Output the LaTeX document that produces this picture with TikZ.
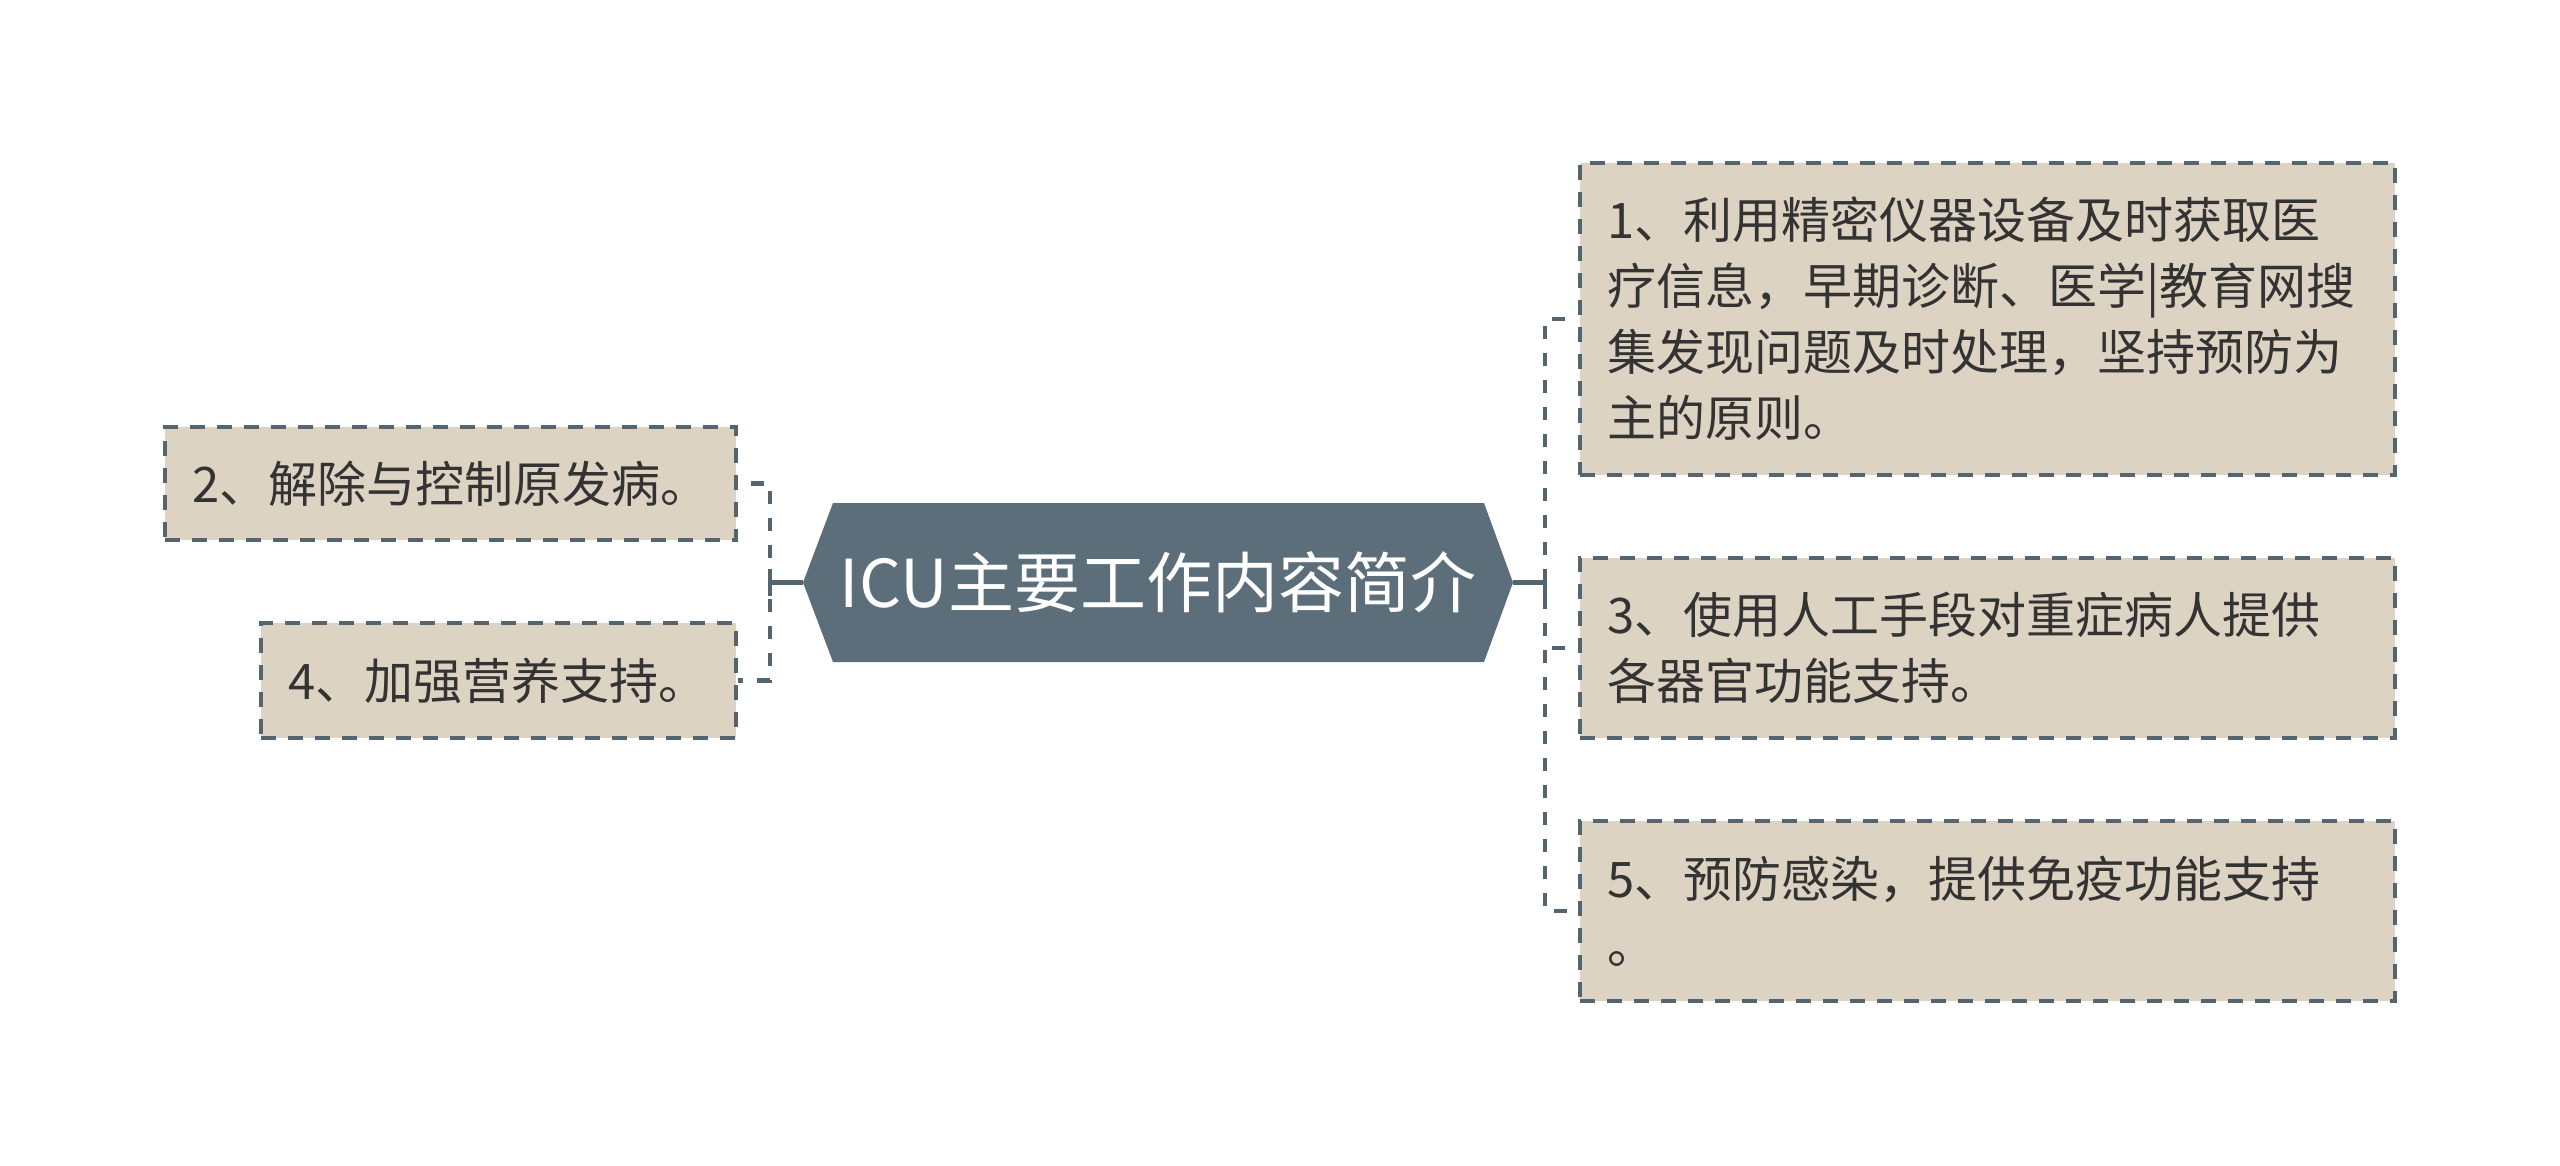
\documentclass[tikz,border=0pt]{standalone}
\usepackage{fontspec}
\setmainfont{Noto Sans CJK SC}
\definecolor{hexfill}{RGB}{91,110,122}
\definecolor{boxfill}{RGB}{221,211,195}
\definecolor{linec}{RGB}{85,101,111}
\definecolor{textc}{RGB}{51,51,51}
\begin{document}
\begin{tikzpicture}[x=1pt,y=-1pt,
  box/.style={draw=linec, fill=boxfill, line width=3.2pt, dash pattern=on 15pt off 12pt,
    rectangle, align=left, inner xsep=27pt, inner ysep=0pt, text=textc,
    font=\fontsize{49}{66}\selectfont},
  link/.style={draw=linec, line width=4.8pt, dash pattern=on 13pt off 14pt, dash phase=14pt},
  stem/.style={draw=linec, line width=4.8pt}]
\fill[white] (0,0) rectangle (2560,1165);
\useasboundingbox (0,0) rectangle (2560,1165);

% central hexagon
\fill[hexfill] (803,582.5) -- (833,503) -- (1484,503) -- (1513,582.5) -- (1484,662) -- (833,662) -- cycle;
\node[text=white, font=\fontsize{66}{72}\selectfont, inner sep=0pt] (c) at (1158,582.5) {ICU主要工作内容简介};
\coordinate (cL) at (803,582.5);
\coordinate (cR) at (1513,582.5);
\coordinate (jL) at (770,582.5);
\coordinate (jR) at (1545,582.5);

% right boxes
\node[box, text width=761pt, minimum height=312pt] (b1) at (1987.5,319)
  {1、利用精密仪器设备及时获取医\\疗信息，早期诊断、医学|教育网搜\\集发现问题及时处理，坚持预防为\\主的原则。};
\node[box, text width=761pt, minimum height=180pt] (b3) at (1987.5,648)
  {3、使用人工手段对重症病人提供\\各器官功能支持。};
\node[box, text width=761pt, minimum height=180pt] (b5) at (1987.5,911)
  {5、预防感染，提供免疫功能支持\\。};

% left boxes
\node[box, text width=517pt, minimum height=113pt] (b2) at (450.5,483.5)
  {2、解除与控制原发病。};
\node[box, text width=421pt, minimum height=115pt] (b4) at (498.5,680.5)
  {4、加强营养支持。};

% connectors
\draw[stem] (cL) -- (jL);
\draw[stem] (cR) -- (jR);
\draw[stem] ([yshift=-13.5pt]jL) -- ([yshift=13.5pt]jL);
\draw[stem] ([yshift=-13.5pt]jR) -- ([yshift=13.5pt]jR);
\draw[link] (b2.east) -- (b2.east -| jL) |- (b4.east);
\draw[link] (b1.west) -- (b1.west -| jR) |- (b5.west);
\draw[link] (b3.west) -- (b3.west -| jR);
\end{tikzpicture}
\end{document}
